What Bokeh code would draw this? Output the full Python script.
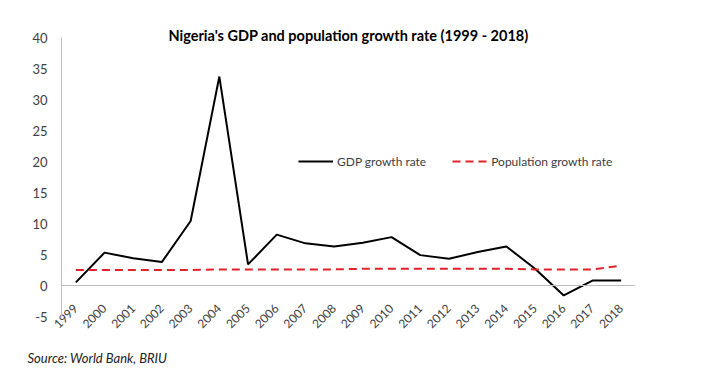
import math
from bokeh.plotting import figure
from bokeh.models import Range1d, FixedTicker, Span, Title, Legend, LegendItem
from bokeh.embed import file_html
from bokeh.resources import INLINE

years = [str(y) for y in range(1999, 2019)]
gdp_growth = [0.5, 5.3, 4.4, 3.8, 10.4, 33.7, 3.4, 8.2, 6.8, 6.3, 6.9, 7.8, 4.9, 4.3, 5.4, 6.3, 2.7, -1.6, 0.8, 0.8]
pop_growth = [2.5, 2.5, 2.5, 2.5, 2.5, 2.6, 2.6, 2.6, 2.6, 2.6, 2.7, 2.7, 2.7, 2.7, 2.7, 2.7, 2.6, 2.6, 2.6, 3.2]
y_ticks = [-5, 0, 5, 10, 15, 20, 25, 30, 35, 40]
title_text = "Nigeria's GDP and population growth rate (1999 - 2018)"
source_text = "Source: World Bank, BRIU"

FONT = "Lato"

p = figure(width=693, height=378, x_range=years, y_range=Range1d(-5, 40),
           output_backend="svg", toolbar_location=None,
           min_border_left=61, min_border_right=58, min_border_top=37, min_border_bottom=62)
p.outline_line_color = None
p.xgrid.grid_line_color = None
p.ygrid.grid_line_color = None

p.yaxis.ticker = FixedTicker(ticks=y_ticks)
p.yaxis.major_label_overrides = {t: str(t) for t in y_ticks}
p.yaxis.axis_line_color = "#bfbfbf"
p.yaxis.major_tick_line_color = None
p.yaxis.minor_tick_line_color = None
p.yaxis.major_label_text_font = FONT
p.yaxis.major_label_text_font_size = "13px"
p.yaxis.major_label_text_color = "#404040"
p.yaxis.major_label_standoff = 8

p.xaxis.axis_line_color = None
p.xaxis.major_tick_line_color = None
p.xaxis.minor_tick_line_color = None
p.xaxis.major_label_orientation = math.pi / 4
p.xaxis.major_label_text_font = FONT
p.xaxis.major_label_text_font_size = "12px"
p.xaxis.major_label_text_color = "#404040"
p.xaxis.major_label_standoff = -16

p.add_layout(Span(location=0, dimension="width", line_color="#bfbfbf", line_width=1))

r_gdp = p.line(years, gdp_growth, line_color="black", line_width=2)
r_pop = p.line(years, pop_growth, line_color="#e0222a", line_width=2, line_dash="8 5")

legend = Legend(items=[LegendItem(label="GDP growth rate", renderers=[r_gdp]),
                       LegendItem(label="Population growth rate", renderers=[r_pop])],
                location=(237, 145), orientation="horizontal",
                glyph_width=35, label_standoff=4, spacing=26, padding=0,
                background_fill_alpha=0, border_line_color=None,
                label_text_font=FONT, label_text_font_size="12px", label_text_color="#404040")
p.add_layout(legend, "center")

p.add_layout(Title(text=title_text, align="center", text_font=FONT, text_font_style="bold",
                   text_font_size="14.5px", text_color="black", standoff=-12), "above")
p.add_layout(Title(text=source_text, align="left", offset=-34, text_font=FONT,
                   text_font_style="italic", text_font_size="13px", text_color="#222222",
                   standoff=26), "below")

open("out.html", "w").write(file_html(p, INLINE))
